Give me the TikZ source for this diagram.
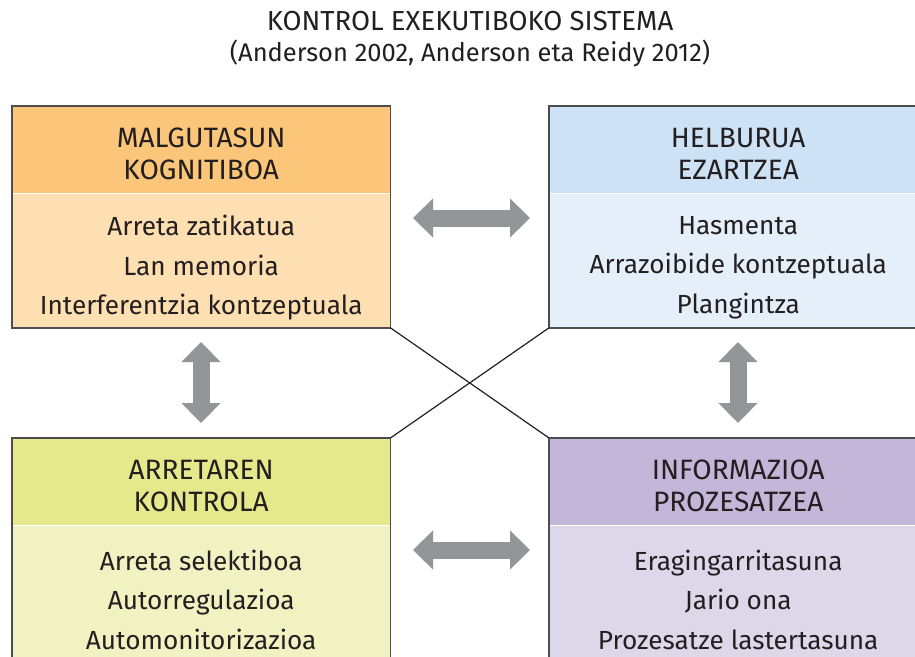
\documentclass[tikz,border=0pt]{standalone}
\usepackage{fontspec}
\setmainfont{Fira Sans}
\usetikzlibrary{arrows.meta}
\definecolor{orH}{HTML}{FBC679}
\definecolor{orB}{HTML}{FDDFB1}
\definecolor{blH}{HTML}{CDE2F5}
\definecolor{blB}{HTML}{E5EFFA}
\definecolor{yeH}{HTML}{E6E98B}
\definecolor{yeB}{HTML}{F1F2C1}
\definecolor{puH}{HTML}{C2B6D9}
\definecolor{puB}{HTML}{DDD7EA}
\definecolor{arr}{HTML}{939598}
\definecolor{txt}{HTML}{231F20}
\definecolor{brd}{HTML}{4D4D4F}
\tikzset{
  hdr/.style={rectangle, inner sep=0pt, minimum width=378pt, minimum height=87pt, anchor=north west},
  bdy/.style={rectangle, inner sep=0pt, minimum width=378pt, minimum height=134pt, anchor=north},
  htxt/.style={align=center, text=txt, inner sep=0pt, font=\fontsize{28}{32}\selectfont},
  btxt/.style={align=center, text=txt, inner sep=0pt, font=\fontsize{26.2}{39.5}\selectfont},
  border/.style={draw=brd, line width=1.5pt},
  cross/.style={draw=txt, line width=1.2pt},
  dbl/.style={draw=arr, line width=17pt, {Triangle[width=38pt,length=20pt]}-{Triangle[width=38pt,length=20pt]}},
  ttl/.style={text=txt, inner sep=0pt, align=center}
}
\begin{document}
\begin{tikzpicture}[x=1pt,y=-1pt]
\useasboundingbox (0,0) rectangle (915,656);
\fill[white] (0,0) rectangle (915,656);
\begin{scope}
\clip (0,0) rectangle (915,656);
\node[ttl, font=\fontsize{27.5}{32}\selectfont] (title1) at (470,21) {KONTROL EXEKUTIBOKO SISTEMA};
\node[ttl, font=\fontsize{25.5}{32}\selectfont] (title2) at (470,53) {(Anderson 2002, Anderson eta Reidy 2012)};

\node[hdr, fill=orH] (h1) at (12,106) {};
\node[bdy, fill=orB] (b1) at (h1.south) {};
\node[hdr, fill=blH] (h2) at (549,106) {};
\node[bdy, fill=blB] (b2) at (h2.south) {};
\node[hdr, fill=yeH] (h3) at (12,438) {};
\node[bdy, fill=yeB] (b3) at (h3.south) {};
\node[hdr, fill=puH] (h4) at (549,438) {};
\node[bdy, fill=puB] (b4) at (h4.south) {};

\node[htxt] (t1) at ([yshift=-4pt]h1.center) {MALGUTASUN\\KOGNITIBOA};
\node[btxt] (u1) at ([yshift=-7pt]b1.center) {Arreta zatikatua\\Lan memoria\\Interferentzia kontzeptuala};
\node[htxt] (t2) at ([yshift=-4pt]h2.center) {HELBURUA\\EZARTZEA};
\node[btxt] (u2) at ([yshift=-7pt]b2.center) {Hasmenta\\Arrazoibide kontzeptuala\\Plangintza};
\node[htxt] (t3) at ([yshift=-4pt]h3.center) {ARRETAREN\\KONTROLA};
\node[btxt] (u3) at ([yshift=-7pt]b3.center) {Arreta selektiboa\\Autorregulazioa\\Automonitorizazioa};
\node[htxt] (t4) at ([yshift=-4pt]h4.center) {INFORMAZIOA\\PROZESATZEA};
\node[btxt] (u4) at ([yshift=-7pt]b4.center) {Eragingarritasuna\\Jario ona\\Prozesatze lastertasuna};

\draw[border] (h1.north west) rectangle (b1.south east);
\draw[border] (h2.north west) rectangle (b2.south east);
\draw[border] (h3.north west) rectangle (b3.south east);
\draw[border] (h4.north west) rectangle (b4.south east);

\draw[cross] (b1.south east) -- (h4.north west);
\draw[cross] (b2.south west) -- (h3.north east);

\coordinate (a1l) at (413,218); \coordinate (a1r) at (530,218);
\coordinate (a2l) at (413,550); \coordinate (a2r) at (530,550);
\coordinate (a3t) at (201,342); \coordinate (a3b) at (201,423);
\coordinate (a4t) at (738,342); \coordinate (a4b) at (738,423);
\draw[dbl] (a1l) -- (a1r);
\draw[dbl] (a2l) -- (a2r);
\draw[dbl] (a3t) -- (a3b);
\draw[dbl] (a4t) -- (a4b);
\end{scope}
\end{tikzpicture}
\end{document}
